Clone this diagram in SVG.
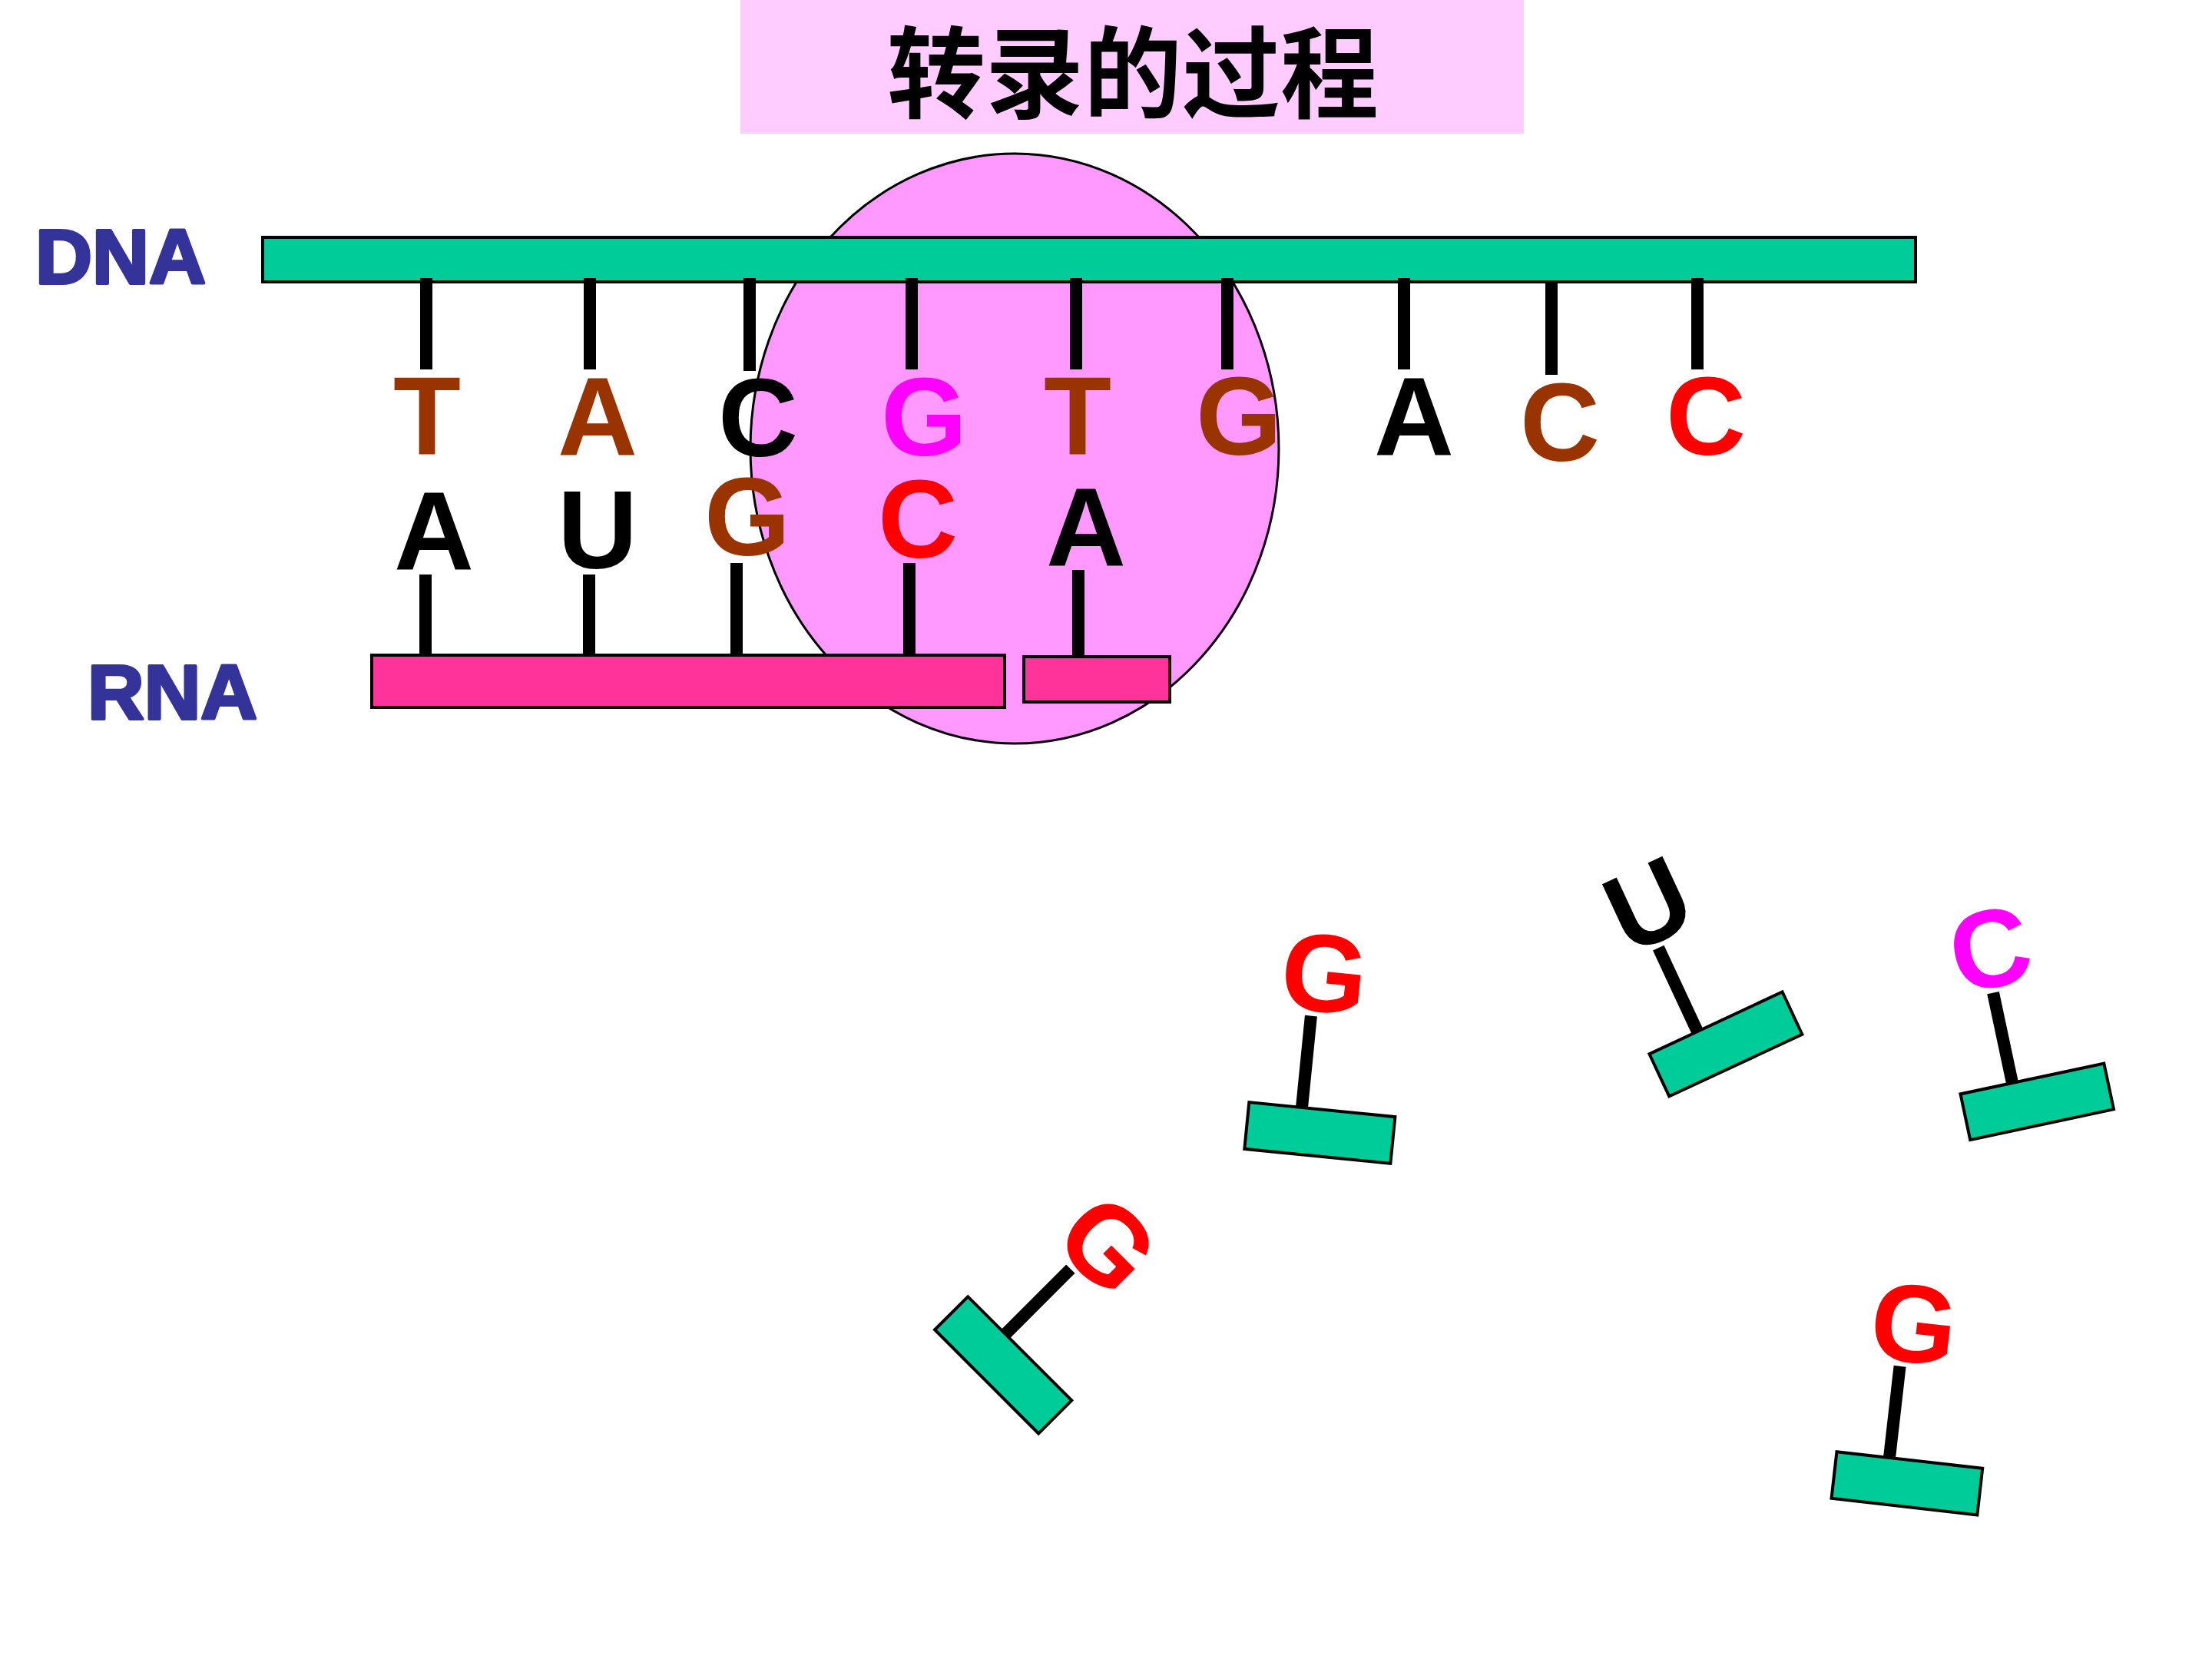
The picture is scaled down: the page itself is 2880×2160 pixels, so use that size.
<svg xmlns="http://www.w3.org/2000/svg" xmlns:xlink="http://www.w3.org/1999/xlink" width="2880" height="2160" viewBox="0 0 2880 2160">
<style>
.base{font-family:"Liberation Sans",Arial,sans-serif;font-weight:bold;font-size:144px;text-anchor:middle}
.lbl{font-family:"Liberation Sans",Arial,sans-serif;font-weight:bold;font-size:101px;fill:#333399;stroke:#333399;stroke-width:4;stroke-linejoin:round}
.bond{stroke:#000;stroke-width:16;fill:none}
.sugar{fill:#00CC99;stroke:#000;stroke-width:4}
.brown{fill:#993300}.red{fill:#FF0000}.mag{fill:#FF00FF}.blk{fill:#000}
</style>
<defs>
<g id="sugar"><line x1="0" y1="-120" x2="0" y2="0" class="bond"/><rect x="-69" y="0" width="191" height="61" class="sugar"/></g>
</defs>
<rect width="2880" height="2160" fill="#fff"/>
<g id="title">
<rect x="964" y="0" width="1020" height="174" fill="#FFCCFF"/>
<text x="1475" y="143" font-family="'Noto Sans CJK SC',sans-serif" font-weight="bold" font-size="130" text-anchor="middle" fill="#000" textLength="640" lengthAdjust="spacingAndGlyphs">转录的过程</text>
</g>
<g id="polymerase"><ellipse cx="1321" cy="584" rx="344" ry="384" fill="#FF99FF" stroke="#000" stroke-width="3"/></g>
<g id="dna-strand"><rect x="342" y="309" width="2152" height="58" fill="#00CC99" stroke="#000" stroke-width="4"/></g>
<g id="rna-strand">
<rect x="484" y="853" width="824" height="68" fill="#FF3399" stroke="#000" stroke-width="4"/>
<rect x="1333" y="855" width="190" height="59" fill="#FF3399" stroke="#000" stroke-width="4"/>
</g>
<g id="connectors">
<line class="bond" x1="555" y1="362" x2="555" y2="481"/>
<line class="bond" x1="768" y1="362" x2="768" y2="481"/>
<line class="bond" x1="976" y1="362" x2="976" y2="483"/>
<line class="bond" x1="1187" y1="362" x2="1187" y2="481"/>
<line class="bond" x1="1401" y1="362" x2="1401" y2="481"/>
<line class="bond" x1="1598" y1="362" x2="1598" y2="481"/>
<line class="bond" x1="1828" y1="362" x2="1828" y2="481"/>
<line class="bond" x1="2020" y1="366" x2="2020" y2="488"/>
<line class="bond" x1="2210" y1="362" x2="2210" y2="481"/>
<line class="bond" x1="554" y1="748" x2="554" y2="853"/>
<line class="bond" x1="767" y1="748" x2="767" y2="853"/>
<line class="bond" x1="959" y1="733" x2="959" y2="853"/>
<line class="bond" x1="1184" y1="733" x2="1184" y2="853"/>
<line class="bond" x1="1404" y1="742" x2="1404" y2="855"/>
</g>
<g id="dna-bases">
<text class="base brown" x="556" y="592">T</text>
<text class="base brown" x="778" y="592">A</text>
<text class="base blk" x="987" y="594">C</text>
<text class="base mag" x="1203" y="593">G</text>
<text class="base brown" x="1403" y="592">T</text>
<text class="base brown" x="1613" y="592">G</text>
<text class="base blk" x="1841" y="592">A</text>
<text class="base brown" x="2031" y="600">C</text>
<text class="base red" x="2221" y="592">C</text>
</g>
<g id="rna-bases">
<text class="base blk" x="565" y="741">A</text>
<text class="base blk" x="778" y="740">U</text>
<text class="base brown" x="973" y="723">G</text>
<text class="base red" x="1195" y="726">C</text>
<text class="base blk" x="1414" y="736">A</text>
</g>
<g id="dna-label"><text class="lbl" x="46" y="369" textLength="222" lengthAdjust="spacingAndGlyphs">DNA</text></g>
<g id="rna-label"><text class="lbl" x="114" y="936" textLength="221" lengthAdjust="spacingAndGlyphs">RNA</text></g>
<g id="free-g1" transform="translate(1695,1442) rotate(5.7)"><use xlink:href="#sugar"/><text class="base red" x="12" y="-127">G</text></g>
<g id="free-u" transform="translate(2210,1343) rotate(-25)"><use xlink:href="#sugar"/><text class="base blk" x="12" y="-127">U</text></g>
<g id="free-c" transform="translate(2620,1410) rotate(-12)"><use xlink:href="#sugar"/><text class="base mag" x="8" y="-127">C</text></g>
<g id="free-g2" transform="translate(1309,1737) rotate(45)"><use xlink:href="#sugar"/><text class="base red" x="12" y="-127">G</text></g>
<g id="free-g3" transform="translate(2460,1898) rotate(6.5)"><use xlink:href="#sugar"/><text class="base red" x="12" y="-127">G</text></g>
</svg>
